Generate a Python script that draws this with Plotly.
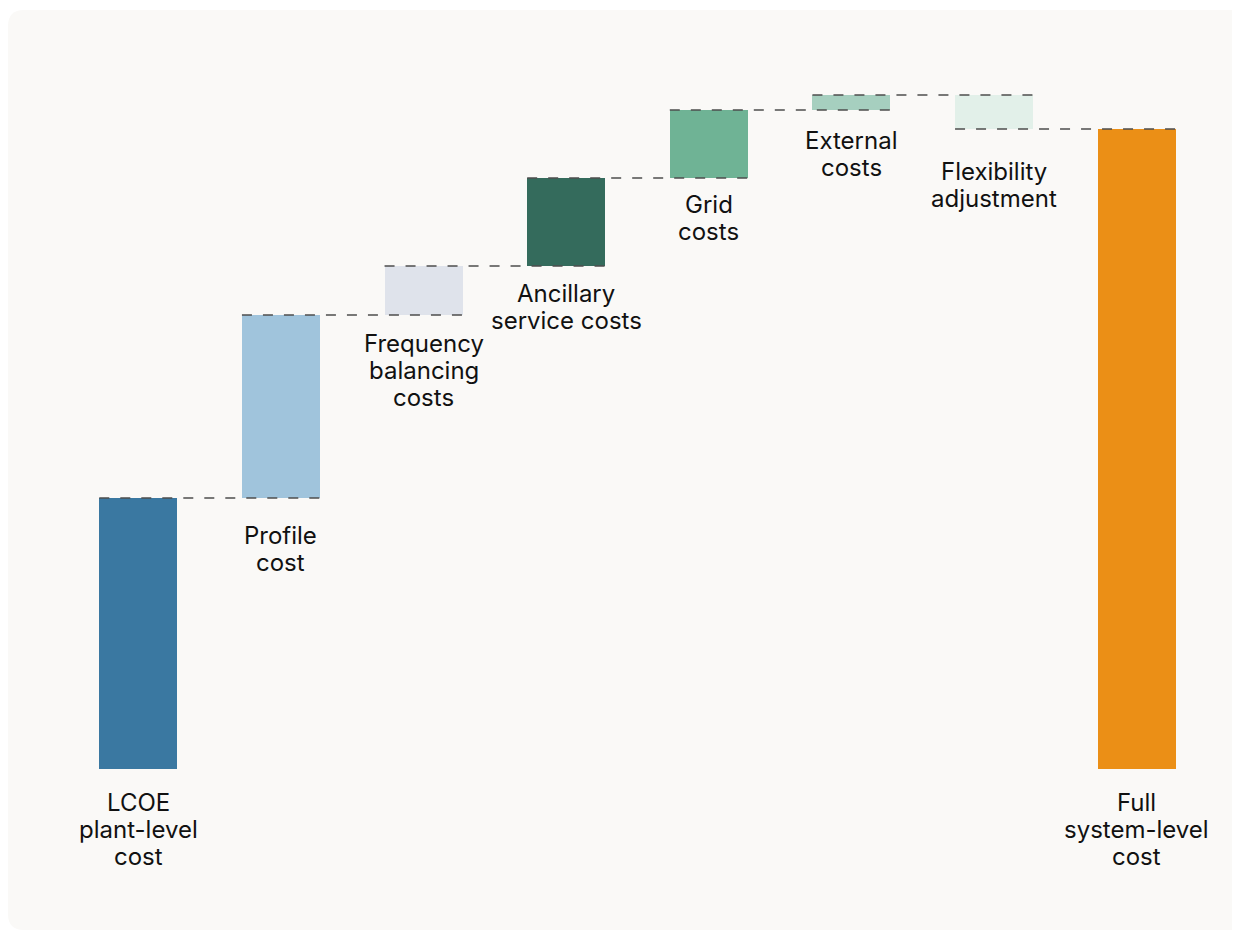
import plotly.graph_objects as go

# ---- data ----
categories = ["LCOE<br>plant-level<br>cost", "Profile<br>cost", "Frequency<br>balancing<br>costs",
              "Ancillary<br>service costs", "Grid<br>costs", "External<br>costs",
              "Flexibility<br>adjustment", "Full<br>system-level<br>cost"]
plant_lcoe = 27.1
adders = [18.3, 4.9, 8.8, 6.8, 1.5, -3.4]   # profile, frequency, ancillary, grid, external, flexibility

# ---- style ----
colors = ["#3a78a1", "#a0c4dc", "#dfe3eb", "#346b5c", "#6fb395", "#a6cfbf", "#e2f0e9", "#eb8f16"]
label_gap = [33, 37, 28, 27, 26, 30, 42, 33]   # px from bar bottom to first label line centre
line_step = 27
font_size = 24
card_color = "#faf9f7"
bar_w = 0.547
font_family = "Inter, 'Noto Sans', sans-serif"

# cumulative bases
values = [plant_lcoe] + adders
bases = [0.0]
level = plant_lcoe
for a in adders:
    bases.append(level)
    level += a
total = level
values.append(total)
bases.append(0.0)
ends = [b + v for b, v in zip(bases, values)]

n = len(categories)
xs = list(range(n))

fig = go.Figure()
fig.add_trace(go.Bar(
    x=xs, y=[abs(v) for v in values],
    base=[min(b, b + v) for b, v in zip(bases, values)],
    width=bar_w, marker=dict(color=colors, line=dict(width=0)),
    hoverinfo="skip", showlegend=False,
))

# dashed connectors
for i in range(n - 1):
    lv = ends[i]
    fig.add_trace(go.Scatter(
        x=[i - bar_w / 2, i + 1 + bar_w / 2], y=[lv, lv], mode="lines",
        line=dict(color="#4d4d4d", width=1.5, dash="10px,11px"),
        hoverinfo="skip", showlegend=False,
    ))

# labels under bars (one annotation per text line for tight line spacing)
for i in range(n):
    bottom = min(bases[i], ends[i])
    for k, line in enumerate(categories[i].split("<br>")):
        fig.add_annotation(
            x=i, y=bottom, text=line, showarrow=False,
            xanchor="center", yanchor="middle", yshift=-(label_gap[i] + k * line_step),
            font=dict(family=font_family, size=font_size, color="#111111"), align="center",
        )

# card background (rounded rectangle) in paper coordinates
W, H = 1240, 931
ml, mr, mt, mb = 59, 40, 52, 170
pw, ph = W - ml - mr, H - mt - mb

def px(xp):
    return (xp - ml) / pw

def py(yp):
    return (H - mb - yp) / ph

r = 16
x0, x1, y0, y1 = 0, 1260, 2, 922
path = (f"M {px(x0 + r)},{py(y0)} L {px(x1 - r)},{py(y0)} Q {px(x1)},{py(y0)} {px(x1)},{py(y0 + r)} "
        f"L {px(x1)},{py(y1 - r)} Q {px(x1)},{py(y1)} {px(x1 - r)},{py(y1)} "
        f"L {px(x0 + r)},{py(y1)} Q {px(x0)},{py(y1)} {px(x0)},{py(y1 - r)} "
        f"L {px(x0)},{py(y0 + r)} Q {px(x0)},{py(y0)} {px(x0 + r)},{py(y0)} Z")
fig.add_shape(type="path", path=path, xref="paper", yref="paper",
              fillcolor=card_color, line=dict(width=0), layer="below")

fig.update_layout(
    width=W, height=H,
    margin=dict(l=ml, r=mr, t=mt, b=mb),
    paper_bgcolor="white", plot_bgcolor="rgba(0,0,0,0)",
    xaxis=dict(range=[-0.5, n - 0.5], visible=False, fixedrange=True),
    yaxis=dict(range=[0, ph / 10], visible=False, fixedrange=True),
    bargap=0, showlegend=False,
)

fig.write_html("out.html")
